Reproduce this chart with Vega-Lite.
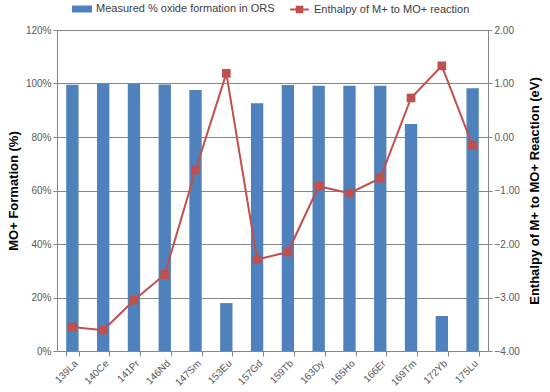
{
  "$schema": "https://vega.github.io/schema/vega-lite/v6.json",
  "width": 431,
  "height": 321,
  "autosize": {"type": "none"},
  "padding": {"left": 57, "top": 30, "right": 62, "bottom": 41},
  "background": "white",
  "config": {
    "font": "Liberation Sans",
    "view": {"stroke": null},
    "axis": {"labelColor": "#595959", "labelFontSize": 10, "domainColor": "#868686", "tickColor": "#868686", "gridColor": "#868686", "titleColor": "#000000", "titleFontSize": 13, "titleFontWeight": "bold"},
    "legend": {"labelColor": "#404040", "labelFontSize": 11, "labelLimit": 400}
  },
  "data": {
    "values": [
      {"isotope": "139La", "oxide": 0.995, "enthalpy": -3.55},
      {"isotope": "140Ce", "oxide": 0.998, "enthalpy": -3.61},
      {"isotope": "141Pr", "oxide": 0.998, "enthalpy": -3.05},
      {"isotope": "146Nd", "oxide": 0.996, "enthalpy": -2.57},
      {"isotope": "147Sm", "oxide": 0.976, "enthalpy": -0.62},
      {"isotope": "153Eu", "oxide": 0.179, "enthalpy": 1.19},
      {"isotope": "157Gd", "oxide": 0.926, "enthalpy": -2.29},
      {"isotope": "159Tb", "oxide": 0.994, "enthalpy": -2.15},
      {"isotope": "163Dy", "oxide": 0.992, "enthalpy": -0.92},
      {"isotope": "165Ho", "oxide": 0.992, "enthalpy": -1.05},
      {"isotope": "166Er", "oxide": 0.992, "enthalpy": -0.77},
      {"isotope": "169Tm", "oxide": 0.849, "enthalpy": 0.73},
      {"isotope": "172Yb", "oxide": 0.131, "enthalpy": 1.33},
      {"isotope": "175Lu", "oxide": 0.982, "enthalpy": -0.16}
    ]
  },
  "encoding": {
    "x": {
      "field": "isotope", "type": "nominal", "sort": null,
      "scale": {"paddingInner": 0.6, "paddingOuter": 0.3},
      "axis": {"title": null, "labelAngle": -45, "tickBand": "extent", "tickSize": 5, "labelPadding": 2, "grid": false}
    }
  },
  "layer": [
    {
      "mark": {"type": "bar", "color": "#4F81BD"},
      "encoding": {
        "y": {
          "field": "oxide", "type": "quantitative",
          "scale": {"domain": [0, 1.2], "nice": false},
          "axis": {"title": "MO+ Formation (%)", "format": ".0%", "values": [0, 0.2, 0.4, 0.6, 0.8, 1.0, 1.2], "tickSize": 4, "titlePadding": 5, "grid": true}
        },
        "fill": {
          "datum": "Measured % oxide formation in ORS", "type": "nominal",
          "scale": {"range": ["#4F81BD"]},
          "legend": {"title": null, "orient": "none", "legendX": 15, "legendY": -31, "symbolType": "M-1,-0.35H1V0.35H-1Z", "symbolSize": 400, "symbolStrokeWidth": 0}
        }
      }
    },
    {
      "layer": [
        {
          "mark": {"type": "line", "color": "#C0504D", "strokeWidth": 2},
          "encoding": {
            "stroke": {
              "datum": "Enthalpy of M+ to MO+ reaction", "type": "nominal",
              "scale": {"range": ["#C0504D"]},
              "legend": {"title": null, "orient": "none", "legendX": 232, "legendY": -31, "symbolType": "M-1,0H1M-0.3,-0.3H0.3V0.3H-0.3Z", "symbolSize": 350, "symbolStrokeWidth": 2, "symbolFillColor": "#C0504D"}
            }
          }
        },
        {
          "mark": {"type": "point", "shape": "square", "filled": true, "color": "#C0504D", "size": 75, "opacity": 1}
        }
      ],
      "encoding": {
        "y": {
          "field": "enthalpy", "type": "quantitative",
          "scale": {"domain": [-4, 2], "nice": false},
          "axis": {"orient": "right", "title": "Enthalpy of M+ to MO+ Reaction (eV)", "format": ".2f", "values": [-4, -3, -2, -1, 0, 1, 2], "tickSize": 4, "titleAngle": -90, "titlePadding": 22, "grid": false}
        }
      }
    }
  ],
  "resolve": {"scale": {"y": "independent"}}
}
